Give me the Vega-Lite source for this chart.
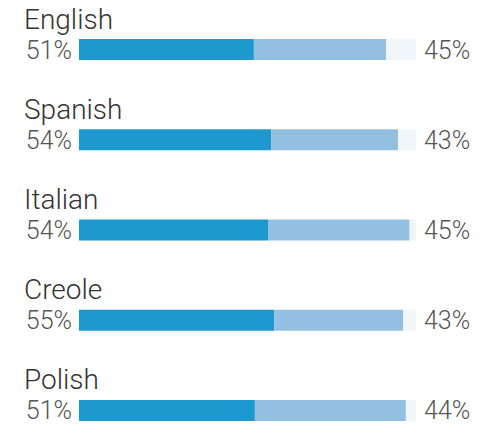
{
  "$schema": "https://vega.github.io/schema/vega-lite/v6.json",
  "width": 337,
  "height": 382,
  "autosize": {"type": "none"},
  "padding": {"left": 79, "right": 77, "top": 39, "bottom": 4},
  "background": "white",
  "config": {"view": {"stroke": null}},
  "datasets": {
    "bars": [
      {"language": "English", "segment": "first", "rank": 1, "value": 51.9},
      {"language": "English", "segment": "second", "rank": 2, "value": 39.2},
      {"language": "English", "segment": "remainder", "rank": 3, "value": 8.9},
      {"language": "Spanish", "segment": "first", "rank": 1, "value": 57.0},
      {"language": "Spanish", "segment": "second", "rank": 2, "value": 37.7},
      {"language": "Spanish", "segment": "remainder", "rank": 3, "value": 5.3},
      {"language": "Italian", "segment": "first", "rank": 1, "value": 56.1},
      {"language": "Italian", "segment": "second", "rank": 2, "value": 42.0},
      {"language": "Italian", "segment": "remainder", "rank": 3, "value": 1.9},
      {"language": "Creole", "segment": "first", "rank": 1, "value": 57.9},
      {"language": "Creole", "segment": "second", "rank": 2, "value": 38.3},
      {"language": "Creole", "segment": "remainder", "rank": 3, "value": 3.8},
      {"language": "Polish", "segment": "first", "rank": 1, "value": 52.2},
      {"language": "Polish", "segment": "second", "rank": 2, "value": 44.8},
      {"language": "Polish", "segment": "remainder", "rank": 3, "value": 3.0}
    ],
    "labels": [
      {"language": "English", "left": "51%", "right": "45%"},
      {"language": "Spanish", "left": "54%", "right": "43%"},
      {"language": "Italian", "left": "54%", "right": "45%"},
      {"language": "Creole", "left": "55%", "right": "43%"},
      {"language": "Polish", "left": "51%", "right": "44%"}
    ]
  },
  "encoding": {
    "y": {
      "field": "language",
      "type": "nominal",
      "sort": ["English", "Spanish", "Italian", "Creole", "Polish"],
      "scale": {"paddingInner": 0.767, "paddingOuter": 0},
      "axis": null
    }
  },
  "layer": [
    {
      "data": {"name": "bars"},
      "mark": {"type": "bar"},
      "encoding": {
        "x": {
          "field": "value",
          "type": "quantitative",
          "stack": "zero",
          "scale": {"domain": [0, 100], "nice": false, "zero": true},
          "axis": null
        },
        "order": {"field": "rank", "type": "quantitative", "sort": "ascending"},
        "color": {
          "field": "segment",
          "type": "nominal",
          "scale": {
            "domain": ["first", "second", "remainder"],
            "range": ["#1d99cf", "#93c0e1", "#f1f6fa"]
          },
          "legend": null
        }
      }
    },
    {
      "data": {"name": "labels"},
      "mark": {
        "type": "text",
        "align": "left",
        "baseline": "alphabetic",
        "dx": -55,
        "dy": -21,
        "font": "Roboto",
        "fontWeight": 300,
        "fontSize": 28,
        "color": "#333333"
      },
      "encoding": {
        "x": {"datum": 0, "type": "quantitative"},
        "text": {"field": "language"}
      }
    },
    {
      "data": {"name": "labels"},
      "mark": {
        "type": "text",
        "align": "right",
        "baseline": "alphabetic",
        "dx": -7,
        "dy": 9,
        "font": "Roboto",
        "fontWeight": 300,
        "fontSize": 25,
        "color": "#555555"
      },
      "encoding": {
        "x": {"datum": 0, "type": "quantitative"},
        "text": {"field": "left"}
      }
    },
    {
      "data": {"name": "labels"},
      "mark": {
        "type": "text",
        "align": "left",
        "baseline": "alphabetic",
        "dx": 8,
        "dy": 9,
        "font": "Roboto",
        "fontWeight": 300,
        "fontSize": 25,
        "color": "#555555"
      },
      "encoding": {
        "x": {"datum": 100, "type": "quantitative"},
        "text": {"field": "right"}
      }
    }
  ]
}
